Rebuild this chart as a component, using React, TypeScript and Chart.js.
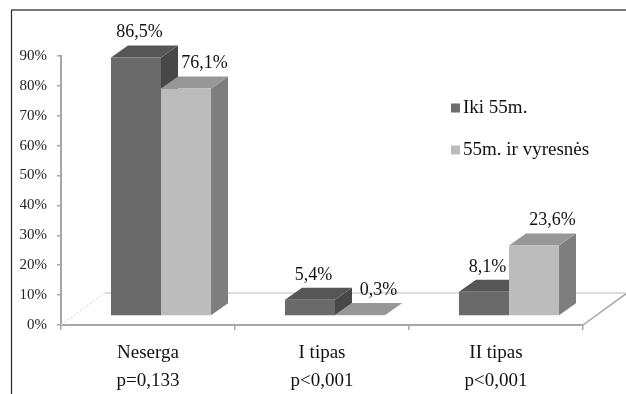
import React, { useEffect, useRef } from 'react';
import { Chart, registerables } from 'chart.js';

Chart.register(...registerables);

// ---- data ----
const categories: string[][] = [
  ['Neserga', 'p=0,133'],
  ['I tipas', 'p<0,001'],
  ['II tipas', 'p<0,001'],
];
const seriesNames = ['Iki 55m.', '55m. ir vyresnės'];
const under55 = [86.5, 5.4, 8.1];
const over55 = [76.1, 0.3, 23.6];
const yMin = 0;
const yMax = 90;
const yStep = 10;

// ---- styles ----
const FONT = '"Liberation Serif", "Times New Roman", serif';
const frontColors = ['#6a6a6a', '#bcbcbc'];
const topColors = ['#565656', '#979797'];
const sideColors = ['#484848', '#7e7e7e'];
const legendColors = ['#6e6e6e', '#bcbcbc'];
const labelShift = [-5, 10];
const BAR_OFF = { x: 13, y: 9 };
const DEPTH = { x: 17, y: 12 };
const FLOOR = { x: 44, y: 32 };

const fmt = (v: number) => v.toFixed(1).replace('.', ',') + '%';

const threeD = {
  id: 'threeD',
  beforeDraw(chart: any) {
    const ctx = chart.ctx;
    ctx.save();
    ctx.fillStyle = '#ffffff';
    ctx.fillRect(0, 0, chart.width, chart.height);
    // figure frame
    ctx.strokeStyle = '#7a7a7a';
    ctx.lineWidth = 2;
    ctx.beginPath();
    ctx.moveTo(11, 10);
    ctx.lineTo(chart.width, 10);
    ctx.stroke();
    ctx.strokeStyle = '#2a2a2a';
    ctx.lineWidth = 1.2;
    ctx.beginPath();
    ctx.moveTo(11.5, 10);
    ctx.lineTo(11.5, chart.height);
    ctx.stroke();
    ctx.restore();
  },
  beforeDatasetsDraw(chart: any) {
    const ctx = chart.ctx;
    const { left, right, bottom } = chart.chartArea;
    ctx.save();
    // back floor edge
    ctx.strokeStyle = '#dedede';
    ctx.lineWidth = 2;
    ctx.beginPath();
    ctx.moveTo(left + FLOOR.x, bottom - FLOOR.y);
    ctx.lineTo(right + FLOOR.x, bottom - FLOOR.y);
    ctx.stroke();
    // left floor edge (dotted)
    ctx.strokeStyle = '#d0d0d0';
    ctx.lineWidth = 1;
    ctx.setLineDash([2, 2]);
    ctx.beginPath();
    ctx.moveTo(left, bottom);
    ctx.lineTo(left + FLOOR.x, bottom - FLOOR.y);
    ctx.stroke();
    ctx.setLineDash([]);
    // right floor edge
    ctx.strokeStyle = '#a6a6a6';
    ctx.lineWidth = 1.5;
    ctx.beginPath();
    ctx.moveTo(right, bottom);
    ctx.lineTo(right + FLOOR.x, bottom - FLOOR.y);
    ctx.stroke();

    // side and top faces of the bars, back to front
    ctx.translate(BAR_OFF.x, -BAR_OFF.y);
    chart.data.datasets.forEach((_ds: any, i: number) => {
      const meta = chart.getDatasetMeta(i);
      meta.data.forEach((el: any) => {
        const { x, y, base, width } = el.getProps(['x', 'y', 'base', 'width'], true);
        const l = x - width / 2;
        const r = x + width / 2;
        ctx.fillStyle = sideColors[i];
        ctx.beginPath();
        ctx.moveTo(r, y);
        ctx.lineTo(r + DEPTH.x, y - DEPTH.y);
        ctx.lineTo(r + DEPTH.x, base - DEPTH.y);
        ctx.lineTo(r, base);
        ctx.closePath();
        ctx.fill();
        ctx.fillStyle = topColors[i];
        ctx.beginPath();
        ctx.moveTo(l, y);
        ctx.lineTo(l + DEPTH.x, y - DEPTH.y);
        ctx.lineTo(r + DEPTH.x, y - DEPTH.y);
        ctx.lineTo(r, y);
        ctx.closePath();
        ctx.fill();
      });
    });
    ctx.restore();
  },
  beforeDatasetDraw(chart: any) {
    const ctx = chart.ctx;
    ctx.save();
    ctx.translate(BAR_OFF.x, -BAR_OFF.y);
  },
  afterDatasetDraw(chart: any) {
    chart.ctx.restore();
  },
  afterDraw(chart: any) {
    const ctx = chart.ctx;
    ctx.save();
    // data labels
    ctx.font = `18px ${FONT}`;
    ctx.fillStyle = '#111111';
    ctx.textAlign = 'center';
    ctx.textBaseline = 'middle';
    chart.data.datasets.forEach((ds: any, i: number) => {
      const meta = chart.getDatasetMeta(i);
      meta.data.forEach((el: any, j: number) => {
        const { x, y } = el.getProps(['x', 'y'], true);
        const cx = x + BAR_OFF.x + DEPTH.x / 2 + labelShift[i];
        const cy = y - BAR_OFF.y - DEPTH.y - 13;
        ctx.fillText(fmt(ds.data[j]), cx, cy);
      });
    });
    // legend
    ctx.font = `19px ${FONT}`;
    ctx.textAlign = 'left';
    ctx.textBaseline = 'middle';
    chart.data.datasets.forEach((ds: any, i: number) => {
      const yc = 108 + i * 42;
      ctx.fillStyle = legendColors[i];
      ctx.fillRect(451, yc - 4.5, 9, 9);
      ctx.fillStyle = '#111111';
      ctx.fillText(ds.label, 463, yc);
    });
    ctx.restore();
  },
};

export default function App() {
  const ref = useRef<HTMLCanvasElement | null>(null);
  useEffect(() => {
    if (!ref.current) return;
    const chart = new Chart(ref.current, {
      type: 'bar',
      data: {
        labels: categories,
        datasets: [
          {
            label: seriesNames[0],
            data: under55,
            backgroundColor: frontColors[0],
            borderWidth: 0,
            clip: false as any,
          },
          {
            label: seriesNames[1],
            data: over55,
            backgroundColor: frontColors[1],
            borderWidth: 0,
            clip: false as any,
          },
        ],
      },
      options: {
        responsive: false,
        animation: false,
        devicePixelRatio: 1,
        datasets: { bar: { barPercentage: 1, categoryPercentage: 0.575 } },
        layout: { padding: { top: 56, right: 43, left: 0, bottom: 0 } },
        plugins: { legend: { display: false }, tooltip: { enabled: false } },
        scales: {
          x: {
            afterFit: (s: any) => {
              s.height = 69;
            },
            grid: {
              drawOnChartArea: false,
              drawTicks: true,
              tickLength: 5,
              color: '#a6a6a6',
              lineWidth: 1.5,
            },
            border: { color: '#a6a6a6', width: 2 },
            ticks: {
              font: { family: FONT, size: 19, lineHeight: 28 / 19 },
              color: '#111111',
              padding: 9,
              maxRotation: 0,
              autoSkip: false,
            },
          },
          y: {
            min: yMin,
            max: yMax,
            afterFit: (s: any) => {
              s.width = 61;
            },
            grid: {
              drawOnChartArea: false,
              drawTicks: true,
              tickLength: 4,
              color: '#a6a6a6',
              lineWidth: 1.5,
            },
            border: { color: '#a6a6a6', width: 2 },
            ticks: {
              stepSize: yStep,
              font: { family: FONT, size: 15 },
              color: '#222222',
              padding: 10,
              callback: (v: any) => v + '%',
            },
          },
        },
      },
      plugins: [threeD],
    });
    return () => chart.destroy();
  }, []);
  return (
    <div style={{ position: 'absolute', left: 0, top: 0, width: 626, height: 394 }}>
      <canvas ref={ref} width={626} height={394} />
    </div>
  );
}
